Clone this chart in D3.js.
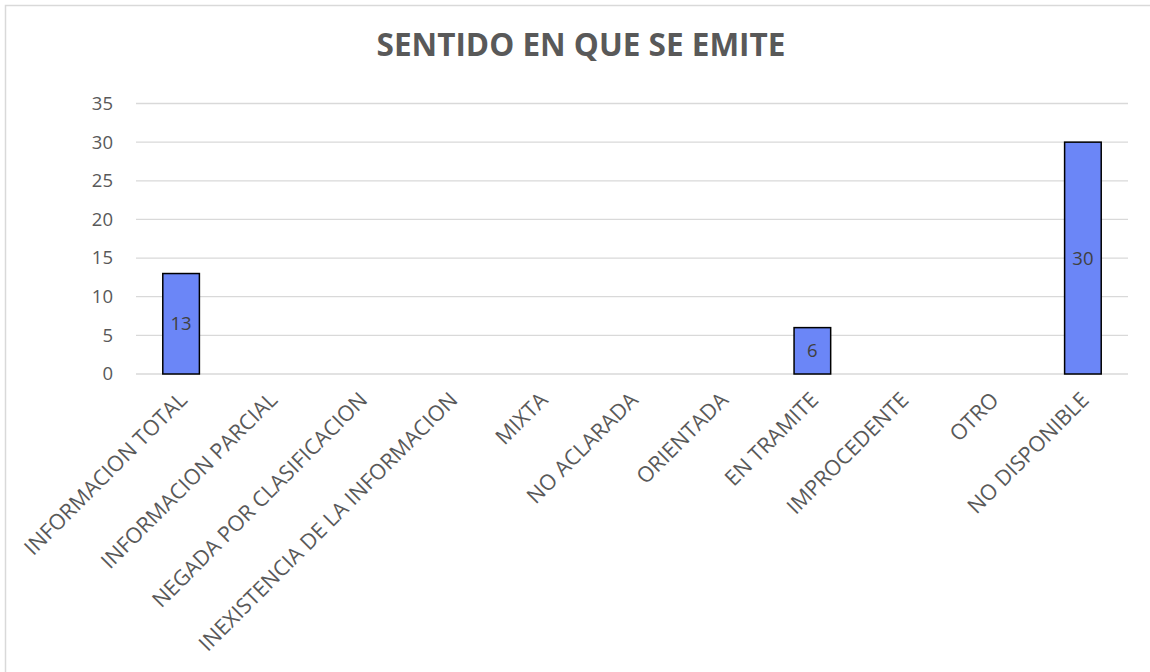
<!DOCTYPE html>
<html>
<head>
<meta charset="utf-8">
<script src="https://cdn.jsdelivr.net/npm/d3@7"></script>
<style>
  html, body { margin: 0; padding: 0; background: #fff; }
  svg { display: block; }
</style>
</head>
<body>
<svg id="chart" width="1150" height="672"></svg>
<script>
const title = "SENTIDO EN QUE SE EMITE";
const categories = ["INFORMACION TOTAL", "INFORMACION PARCIAL", "NEGADA POR CLASIFICACION",
  "INEXISTENCIA DE LA INFORMACION", "MIXTA", "NO ACLARADA", "ORIENTADA", "EN TRAMITE",
  "IMPROCEDENTE", "OTRO", "NO DISPONIBLE"];
const values = [13, 0, 0, 0, 0, 0, 0, 6, 0, 0, 30];
const yTicks = [0, 5, 10, 15, 20, 25, 30, 35];

const svg = d3.select("#chart");
const font = "'Open Sans', 'Noto Sans', sans-serif";

// outer chart border (cropped on right/bottom)
svg.append("rect").attr("x", 5.5).attr("y", 5.5).attr("width", 1200).attr("height", 700)
  .attr("fill", "#fff").attr("stroke", "#d9d9d9").attr("stroke-width", 1.5);

svg.append("text").attr("x", 581).attr("y", 56).attr("text-anchor", "middle")
  .attr("font-family", font).attr("font-weight", "bold").attr("font-size", 31.5)
  .attr("fill", "#595959").text(title);

const x = d3.scaleBand().domain(categories).range([136, 1128])
  .paddingInner(0.594).paddingOuter(0.297);
const y = d3.scaleLinear().domain([0, 35]).range([374, 103.5]);

// gridlines
svg.append("g").selectAll("line").data(yTicks).join("line")
  .attr("x1", 136).attr("x2", 1128)
  .attr("y1", d => y(d)).attr("y2", d => y(d))
  .attr("stroke", "#d9d9d9").attr("stroke-width", 1.3);

// y axis
const yAxis = svg.append("g").attr("transform", "translate(113,0)")
  .call(d3.axisLeft(y).tickValues(yTicks).tickSize(0).tickPadding(0));
yAxis.select(".domain").remove();
yAxis.selectAll("text").attr("font-family", font).attr("font-size", 18.5)
  .attr("fill", "#595959");

// bars
const bars = categories.map((c, i) => ({ c, v: values[i] })).filter(d => d.v > 0);
svg.append("g").selectAll("rect").data(bars).join("rect")
  .attr("x", d => x(d.c)).attr("width", x.bandwidth())
  .attr("y", d => y(d.v)).attr("height", d => y(0) - y(d.v))
  .attr("fill", "#6b86f7").attr("stroke", "#000").attr("stroke-width", 1.5);

svg.append("g").selectAll("text").data(bars).join("text")
  .attr("x", d => x(d.c) + x.bandwidth() / 2)
  .attr("y", d => (y(d.v) + y(0)) / 2)
  .attr("dy", "0.35em").attr("text-anchor", "middle")
  .attr("font-family", font).attr("font-size", 18.5).attr("fill", "#404040")
  .text(d => d.v);

// x axis labels
const xAxis = svg.append("g").attr("transform", "translate(0,374)")
  .call(d3.axisBottom(x).tickSize(0).tickPadding(0));
xAxis.select(".domain").remove();
xAxis.selectAll("text")
  .attr("font-family", font).attr("font-size", 21.5).attr("fill", "#595959")
  .attr("text-anchor", "end")
  .attr("transform", "translate(2,22) rotate(-45)")
  .attr("dy", "0.35em").attr("y", 0).attr("x", 0);
</script>
</body>
</html>
